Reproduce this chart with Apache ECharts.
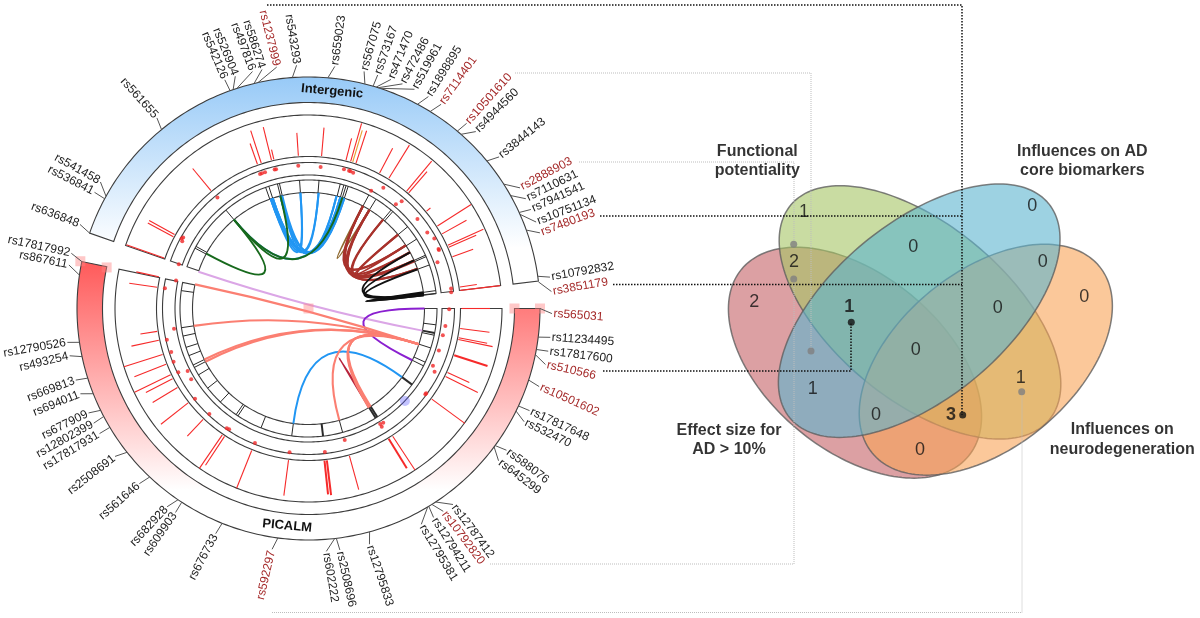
<!DOCTYPE html>
<html><head><meta charset="utf-8">
<style>html,body{margin:0;padding:0;background:#fff}#c{width:1200px;height:618px}</style>
<script src="https://cdn.jsdelivr.net/npm/echarts@6/dist/echarts.min.js"></script>
</head><body><div id="c"></div>
<script>
// ---- SNP labels (circos, clockwise from 12 o'clock)
const snpNames = ['rs561655','rs542126','rs526904','rs497816','rs586274','rs1237999','rs543293','rs659023','rs567075','rs573167','rs471470','rs472486','rs519961','rs1898895','rs7114401','rs10501610','rs4944560','rs3844143','rs2888903','rs7110631','rs7941541','rs10751134','rs7480193','rs10792832','rs3851179','rs565031','rs11234495','rs17817600','rs510566','rs10501602','rs17817648','rs532470','rs588076','rs645299','rs12787412','rs10792820','rs12794211','rs12795381','rs12795833','rs2508696','rs602222','rs592297','rs676733','rs609903','rs682928','rs561646','rs2508691','rs17817931','rs12802399','rs677909','rs694011','rs669813','rs493254','rs12790526','rs867611','rs17817992','rs636848','rs536841','rs541458'];
const snpAnchor = [320.6,340.2,341,342,346.4,347.4,356,4.8,14.1,16.2,17,17.5,18,28.1,31.7,40,41.2,50.4,57.5,60.8,65.5,66,70.2,82,83.4,90,97.1,100.2,101.5,108,114.9,116.3,126.3,126.7,146.7,147.8,148.7,149,164.7,173.1,173.5,187.6,201.9,213.2,214.3,223.3,231.6,239.1,242.2,243.9,248.4,252.5,258,261.6,278.3,281.7,289,298.3,299];
const snpLabelAngle = [321.5,339.9,342.5,346.7,349,352.5,357.2,6.2,13.2,16.5,19.8,22.7,25.8,29.5,33,40.5,43.4,51.5,60.3,63.2,66,69.2,71.9,82.6,86,91.2,96.8,100.1,103.3,108.7,114.8,117.7,125.6,128.7,143.6,146.4,149.1,152.4,165.5,172.6,175.8,188.6,202.4,213.1,215.5,224,232.6,239.1,241.9,244.6,249.5,252.9,258.8,262,280.3,283.1,290.2,298.5,301.3];
const snpTextAngle = [318,337,338,339,342,346,351,8,16,19,22,28,29,32,35.6,41.9,45,50.8,62,63.7,65.6,68.9,69.4,80.2,80,94,94,97,103,114,115,116,127,127,143.4,143,147.5,149,161.6,167.7,170.5,193,207.8,215,223,229,232,238.8,240.8,243.4,247.8,249.2,256.5,260.2,281.8,282.2,290.8,297,299.2];
const snpHighlighted = ['rs1237999','rs7114401','rs10501610','rs2888903','rs7480193','rs3851179','rs565031','rs510566','rs10501602','rs10792820','rs592297'];

// ---- sectors
const sectorNames = ['Intergenic','PICALM'];
const sectorSpans = [[289,443.2],[90,281.7]];
const sectorLabelAngles = [6.2,185.6];
const trackRadii = [[193.5,152],[146,133.5],[128.5,116]];
const bandRadii = [231.5,206];

// ---- red lines in the outer track: angle, outer radius
const lineAngles = [289.3,298,298.9,320.4,340.5,342,346,346.9,356.2,4.9,14.2,16,18.1,27.7,31.7,39.9,40.9,50.5,57.4,60.8,65.6,66.4,70.2,81.9,83.2,90,97.5,101,101.7,107.8,114.7,116.4,126.3,146.6,148.4,164.5,173.1,174,187.5,201.8,213.3,214.3,223.5,231.9,238.9,242.7,244.3,248.6,252.5,258,261.4,278,282];
const lineTops = [193,182,182,181.7,175,187,187,163,176,181.5,175.6,192.6,187,181,192,192,181,158,193,181,192,183,175,170,193,181.5,182.5,182,188,188,177,189,194,193.4,187.6,188,188,187,188.8,193.6,187.6,193.6,176,187.5,182,183,193,187,193.5,181,170,181,176];
const lineAnglesThick = [107.8,148.4,173.1,174];
const orangeLineAngle = [16.8];
const orangeLineTop = [186];

// ---- red dots in the second track: angle, radius
const dotAngles = [288.8,298,298.9,299.5,320.6,340.2,341,342.3,346.3,346.9,355.9,4.9,14.3,16.4,17,18.2,28,31.8,40,41,50.6,57.4,60.9,65.4,65.8,70.3,82,83.5,90.3,97.3,101.3,107.9,114.7,116.6,125.8,126.3,146.8,148.2,148.2,164.6,173.5,187.5,201.7,213.3,214.3,223.2,231.5,238.9,242.7,243.9,248.5,252.4,257.6,261.4,278,281.9];
const dotRadii = [137,143,145,144,143.5,143,143,143,143,143,143,142,143.6,143.6,143.5,143,133.5,142,136,142,141,141,144,143,143,137,144,143.6,140.7,138,137,137,137,141,145,145,136.5,136,139,136.4,144.5,145,144.8,144.6,145,144.8,145,137,136,145,145,144,145,136,145,135.4];

// ---- black ticks in the inner track
const tickAngles = [298,298.9,320,340.5,342,346,346.9,356,4.7,14.3,16,17,18,28,31.7,40,41,50.5,57.3,65.5,66.2,70.2,82,83.4,97.3,101,102,107.9,114.7,116.5,126.3,147.6,148.5,164.6,173.5,187.5,201.7,213.3,214.3,223.3,231.7,238.9,242.7,243.9,248.5,252.4,257.6,261.4,278];
const tickThick = [101,126.3,148.5,147.6,173.5];

// ---- chords: pairs of angles
const chordGreen = [[298.3,320],[320,346],[320,17]];
const chordBlue = [[320,16],[341,356],[341,5],[342,14],[342,16],[341,18],[346,356],[346,5],[346.9,14],[346,16],[346,18],[342,17]];
const chordBrown = [[28,70],[31.7,70],[28,65.5],[31.7,65.5],[40,61],[40,66],[50.5,57],[50.5,61],[28,57],[31.7,57]];
const chordTan = [[28,31.7]];
const chordBlack = [[82,83.5],[82.4,83.4],[70.2,83],[65.5,83],[61,83]];
const chordPurple = [[90,116.5]];
const chordLilac = [[288.5,101]];
const chordSalmon = [[282,108],[261.4,108],[242.7,108],[243.9,108],[164.6,108],[147.6,108],[148.2,108],[148.7,108]];
const chordSky = [[126.3,187.5]];
const chordCrimson = [[148,148.6]];

// ---- marks on circos: radius, angle
const pinkMarks = [[233,281.7],[206,281.5],[206,90],[231.5,90],[0,0]];
const blueMark = [[133.6,133.8]];

// ---- Venn
const vennEllipses = [[855,362.7,147,88,39.4],[920,312.4,168,87.5,39.7],[985.8,359.7,147,88,-39.4],[919.2,310.7,168,87.5,-39.7]];
const vennCounts = [1,2,2,0,0,0,0,1,0,0,1,0,3,1,0];
const vennCountX = [804,794,754.3,913.3,1032.3,1042.7,1084.3,849.3,997.7,915.7,812.7,876,951,1020.7,920];
const vennCountY = [211.7,262.3,302.3,247.3,206,262,297.3,307.3,308.3,350,389,415,415,378.3,450];
const vennCountBold = [7,12];
const grayDots = [[793.7,244.3],[793.7,279],[811,351],[1021.7,391.7]];
const blackDots = [[851.3,322.3],[962.7,415]];
const vennTitles = [['Functional',757.3,151.7],['potentiality',757.3,171],['Influences on AD',1082.3,151.7],['core biomarkers',1082.3,171],['Effect size for',729,431],['AD > 10%',729,450],['Influences on',1122.3,430],['neurodegeneration',1122.3,449.3]];

// ---- connector paths
const blackLinks = [[[267,5],[962,5],[962,415]],[[600,216],[962,216]],[[613,284.5],[962,284.5]],[[603,371],[851,371],[851,322]]];
const grayLinks = [[[515,73],[811,73],[811,351]],[[579,162],[794,162],[794,244]],[[490,564],[794,564],[794,279]],[[272,612.5],[1022,612.5],[1022,392]]];

const FONT = '"Liberation Sans", Arial, sans-serif';
const STROKE = '#3c3c3c';
const custom = (rows, fn, z) => ({type:'custom', coordinateSystem:'polar', polarIndex:0, clip:false, silent:true, animation:false, z:z, data:rows, renderItem:(p,api)=>fn(rows[p.dataIndex],api,p.dataIndex)});

function arcPts(api,r,a,b){const n=Math.max(2,Math.ceil(Math.abs(b-a)));const out=[];for(let i=0;i<=n;i++)out.push(api.coord([r,(a+(b-a)*i/n)]));return out;}
function ringItem(api,r1,r0,a,b,fill){return {type:'polygon',shape:{points:arcPts(api,r1,a,b).concat(arcPts(api,r0,b,a))},style:{fill:fill,stroke:STROKE,lineWidth:1.1}};}
const norm = a => ((a%360)+360)%360;

const bandFill = [
 {type:'linear',global:true,x:0,y:78,x2:0,y2:248,colorStops:[{offset:0,color:'#98caf7'},{offset:1,color:'#ffffff'}]},
 {type:'linear',global:true,x:0,y:255,x2:0,y2:490,colorStops:[{offset:0,color:'#ff5555'},{offset:1,color:'#ffffff'}]}
];

const sectorRows = sectorSpans.map((s,i)=>[bandRadii[0],s[0],s[1],i]);
const trackRows=[];sectorSpans.forEach(s=>trackRadii.forEach(t=>trackRows.push([t[0],s[0],s[1],t[1]])));

function radial(color,widthFn,r0){return (row,api)=>{const a=row[1],b=api.coord([r0,a]),t=api.coord([row[0],a]);return {type:'line',shape:{x1:b[0],y1:b[1],x2:t[0],y2:t[1]},style:{stroke:color,lineWidth:widthFn(a)}};};}
function chordSeries(pairs,color,w,z){return custom(pairs.map(p=>[116,p[0],p[1]]),(row,api)=>{const a=api.coord([116,row[1]]),b=api.coord([116,row[2]]),c=api.coord([0,0]);return {type:'bezierCurve',shape:{x1:a[0],y1:a[1],x2:b[0],y2:b[1],cpx1:c[0],cpy1:c[1]},style:{fill:'none',stroke:color,lineWidth:w}};},z);}

const series = [
 custom(sectorRows,(row,api)=>ringItem(api,bandRadii[0],bandRadii[1],row[1],row[2],bandFill[row[3]]),2),
 custom(trackRows,(row,api)=>ringItem(api,row[0],row[3],row[1],row[2],'#fff'),2),
 custom(lineAngles.map((a,i)=>[lineTops[i],a]),radial('#f62a2a',a=>lineAnglesThick.includes(a)?2:1.1,153),4),
 custom(orangeLineAngle.map((a,i)=>[orangeLineTop[i],a]),radial('#e8a030',()=>1.1,153),4),
 custom(tickAngles.map(a=>[128.5,a]),radial('#2a2a2a',a=>tickThick.includes(a)?2:1,116),4),
 {type:'scatter',coordinateSystem:'polar',polarIndex:0,silent:true,animation:false,z:5,symbol:'circle',symbolSize:4,itemStyle:{color:'#f02828'},data:dotRadii.map((r,i)=>[r,dotAngles[i]])},
 chordSeries(chordLilac,'#dba6e6',2,6),
 chordSeries(chordSky,'#2196f3',2,6),
 chordSeries(chordBlue,'#2196f3',2,6),
 chordSeries(chordGreen,'#17691c',2,7),
 chordSeries(chordTan,'#8f6a30',2,6),
 chordSeries(chordBrown,'#a8322c',2.2,7),
 chordSeries(chordBlack,'#111',2,7),
 chordSeries(chordPurple,'#8a1fd0',2,6),
 chordSeries(chordCrimson,'#b8243c',1.8,6),
 chordSeries(chordSalmon,'#fb7f72',2.1,8),
 {type:'scatter',coordinateSystem:'polar',polarIndex:0,silent:true,animation:false,z:9,symbol:'rect',symbolSize:10,itemStyle:{color:'rgba(255,130,130,0.55)'},data:pinkMarks},
 {type:'scatter',coordinateSystem:'polar',polarIndex:0,silent:true,animation:false,z:9,symbol:'circle',symbolSize:10,itemStyle:{color:'rgba(90,90,255,0.45)'},data:blueMark}
];

series.push(custom(snpNames.map((n,i)=>[244.5,snpLabelAngle[i]]),(row,api,i)=>{
  const a=api.coord([231.5,snpAnchor[i]]),e=api.coord([243.5,snpLabelAngle[i]]),th=norm(snpTextAngle[i]),t=api.coord([245,snpLabelAngle[i]]);
  const right=th<180;const rot=(right?90-th:270-th)*Math.PI/180;
  return {type:'group',children:[
   {type:'line',shape:{x1:a[0],y1:a[1],x2:e[0],y2:e[1]},style:{stroke:'#555',lineWidth:1}},
   {type:'text',x:t[0],y:t[1],rotation:rot,style:{text:snpNames[i],font:'12px '+FONT,fill:snpHighlighted.includes(snpNames[i])?'#a52a2a':'#222',align:right?'left':'right',textAlign:right?'left':'right',verticalAlign:'middle',textVerticalAlign:'middle'}}
  ]};},10));

series.push(custom(sectorNames.map((n,i)=>[218.5,sectorLabelAngles[i]]),(row,api,i)=>{const t=api.coord(row);
  return {type:'text',x:t[0],y:t[1],rotation:-0.095,style:{text:sectorNames[i],font:'bold 13px '+FONT,fill:'#111',align:'center',textAlign:'center',verticalAlign:'middle',textVerticalAlign:'middle'}};},10));

// Venn
const vennColors=['rgba(197,97,102,0.6)','rgba(165,197,100,0.6)','rgba(248,163,87,0.6)','rgba(92,180,207,0.6)'];
series.push({type:'custom',coordinateSystem:'cartesian2d',xAxisIndex:0,yAxisIndex:0,clip:false,silent:true,animation:false,z:2,
 data:vennEllipses.map(e=>e.slice(0,2)),
 renderItem:(p,api)=>{const [cx,cy,a,b,phi]=vennEllipses[p.dataIndex];const f=phi*Math.PI/180,pts=[];
  for(let i=0;i<180;i++){const t=i/180*2*Math.PI,u=a*Math.cos(t),v=b*Math.sin(t);pts.push(api.coord([cx+u*Math.cos(f)-v*Math.sin(f),cy+u*Math.sin(f)+v*Math.cos(f)]));}
  return {type:'polygon',shape:{points:pts},style:{fill:vennColors[p.dataIndex],stroke:'rgba(95,95,95,0.8)',lineWidth:1.5}};}});

blackLinks.forEach(l=>series.push({type:'line',xAxisIndex:0,yAxisIndex:0,data:l,symbol:'none',silent:true,animation:false,z:5,lineStyle:{color:'#111',width:1.5,type:[1.5,1.5]}}));
grayLinks.forEach(l=>series.push({type:'line',xAxisIndex:0,yAxisIndex:0,data:l,symbol:'none',silent:true,animation:false,z:4,lineStyle:{color:'#bdbdbd',width:1,type:[1,1]}}));
series.push({type:'scatter',xAxisIndex:0,yAxisIndex:0,silent:true,animation:false,z:6,symbolSize:7,itemStyle:{color:'#808080'},data:grayDots});
series.push({type:'scatter',xAxisIndex:0,yAxisIndex:0,silent:true,animation:false,z:6,symbolSize:7,itemStyle:{color:'#111'},data:blackDots});
series.push({type:'scatter',xAxisIndex:0,yAxisIndex:0,silent:true,animation:false,z:7,symbolSize:0,
 data:vennCounts.map((c,i)=>({value:[vennCountX[i],vennCountY[i]],label:{show:true,position:'inside',formatter:String(c),fontSize:18,fontFamily:FONT,color:'#111',fontWeight:vennCountBold.includes(i)?'bold':'normal'}}))});
series.push({type:'scatter',xAxisIndex:0,yAxisIndex:0,silent:true,animation:false,z:7,symbolSize:0,
 data:vennTitles.map(t=>({value:[t[1],t[2]],label:{show:true,position:'inside',formatter:t[0],fontSize:16,fontFamily:FONT,color:'#000',fontWeight:'bold'}}))});

const chart = echarts.init(document.getElementById('c'),null,{renderer:'canvas'});
chart.setOption({
 backgroundColor:'#fff',animation:false,
 polar:{center:[308.5,308.5],radius:310},
 angleAxis:{type:'value',min:0,max:360,startAngle:90,clockwise:true,show:false},
 radiusAxis:{type:'value',min:0,max:310,show:false},
 grid:{left:0,right:0,top:0,bottom:0},
 xAxis:{type:'value',min:0,max:1200,show:false},
 yAxis:{type:'value',min:0,max:618,inverse:true,show:false},
 tooltip:{show:false},
 series:series
});
</script></body></html>
